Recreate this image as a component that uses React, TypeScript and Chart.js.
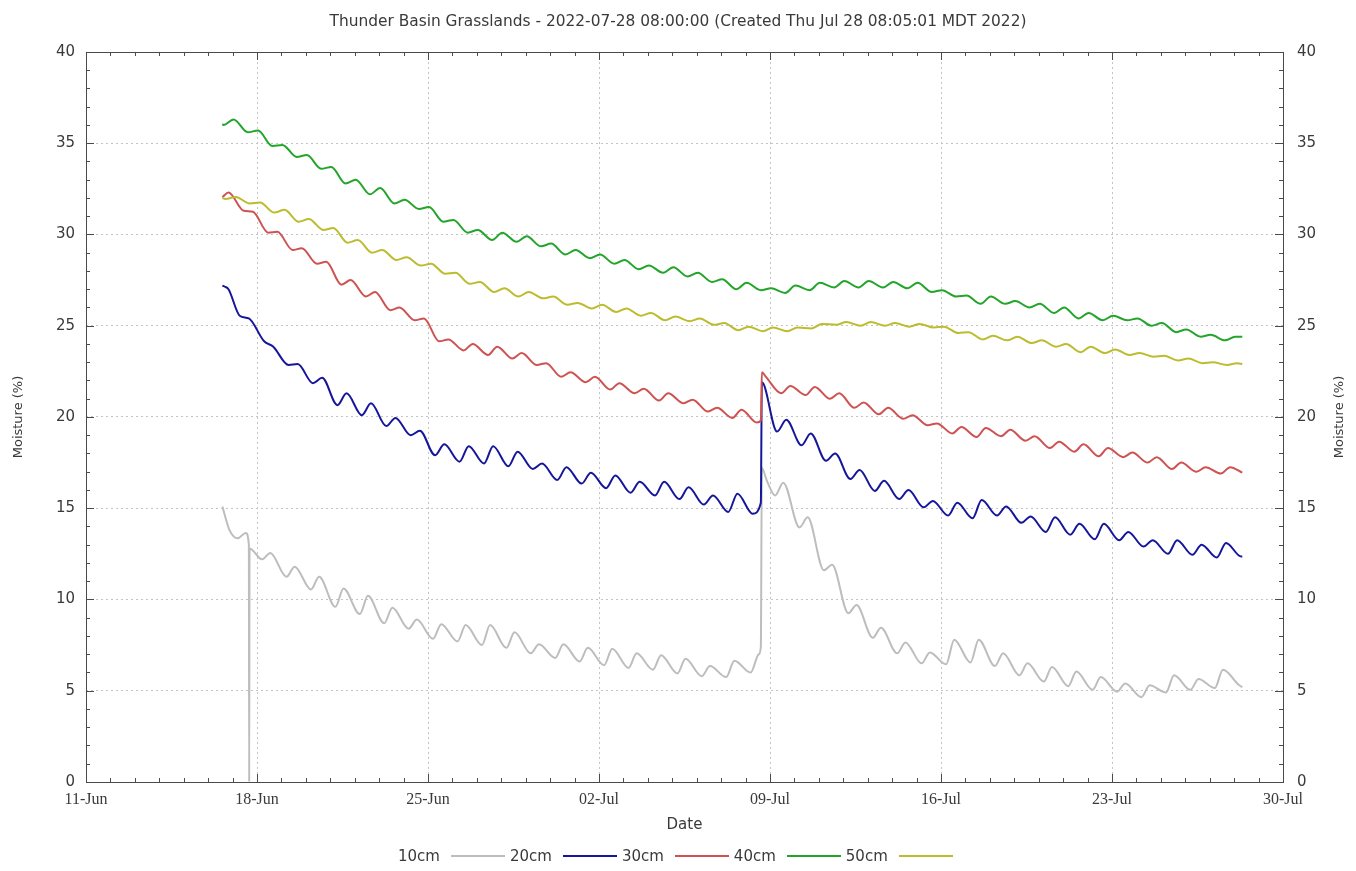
import React, { useEffect, useRef } from 'react';
import { Chart, registerables } from 'chart.js';

Chart.register(...registerables);

// ---------- text ----------
const TITLE = 'Thunder Basin Grasslands - 2022-07-28 08:00:00 (Created Thu Jul 28 08:05:01 MDT 2022)';
const X_TITLE = 'Date';
const Y_TITLE = 'Moisture (%)';
const X_TICK_LABELS = ['11-Jun', '18-Jun', '25-Jun', '02-Jul', '09-Jul', '16-Jul', '23-Jul', '30-Jul'];
const Y_MIN = 0;
const Y_MAX = 40;
const Y_STEP = 5;

// ---------- time frame (x = days after 11-Jun 00:00) ----------
const X_MIN = 0;
const X_MAX = 49;
const FIRST_DAY = 5; // index 0 of the daily arrays = 16-Jun
const START_TIME = '06-16 14:00';
const END_TIME = '07-28 08:00';

// ---------- series ----------
const SERIES_NAMES = ['10cm', '20cm', '30cm', '40cm', '50cm'];
const SERIES_COLORS = ['#bdbdbd', '#16169a', '#cf5252', '#22a52a', '#bcbc2e'];

// 10cm : daily minimum (~05:00) and maximum (~13:00), one value per day from 16-Jun
const d10Start = 15.1;
const d10End = 5.2;
const d10TroughHour = 5;
const d10PeakHour = 13;
const d10Troughs = [null, 13.35, 12.2, 11.25, 10.55, 9.6, 9.2, 8.7, 8.4, 7.85, 7.7, 7.5, 7.35, 7.05, 6.8, 6.6, 6.4, 6.25, 6.15, 5.95, 5.8, 5.75, 6.0, 15.7, 13.95, 11.6, 9.25, 7.9, 7.05, 6.5, 6.45, 6.55, 6.35, 5.85, 5.5, 5.25, 5.05, 4.95, 4.65, 4.9, 5.05, 5.15, 5.3];
const d10Peaks = [null, 13.65, 12.55, 11.8, 11.25, 10.6, 10.2, 9.55, 8.9, 8.65, 8.6, 8.6, 8.2, 7.55, 7.55, 7.35, 7.3, 7.05, 6.95, 6.75, 6.35, 6.65, 7.0, 16.4, 14.5, 11.9, 9.7, 8.45, 7.65, 7.1, 7.8, 7.8, 7.05, 6.5, 6.3, 6.05, 5.75, 5.4, 5.3, 5.85, 5.65, 6.15, null];
const d10Events: [string, number][] = [
  ['06-16 21:00', 13.8],
  ['06-17 16:00', 13.0],
  ['06-17 16:20', 0],
  ['06-17 16:40', 12.8],
  ['07-08 15:00', 7.4],
  ['07-08 16:00', 17.2],
  ['07-08 21:00', 16.5],
];

// 20cm : minimum (~07:00), maximum (~16:00)
const d20Start = 27.2;
const d20End = 12.35;
const d20TroughHour = 7;
const d20PeakHour = 16;
const d20Troughs = [null, 25.55, 24.15, 22.85, 21.85, 20.65, 20.1, 19.5, 19.0, 17.9, 17.55, 17.45, 17.3, 17.15, 16.55, 16.35, 16.1, 15.85, 15.7, 15.5, 15.2, 14.8, 14.7, 19.2, 18.45, 17.6, 16.6, 15.95, 15.5, 15.05, 14.6, 14.45, 14.6, 14.2, 13.7, 13.55, 13.3, 13.25, 12.9, 12.5, 12.45, 12.3, 12.35];
const d20Peaks = [27.15, 25.4, 23.85, 22.9, 22.15, 21.3, 20.75, 19.95, 19.25, 18.5, 18.4, 18.4, 18.1, 17.45, 17.25, 16.95, 16.8, 16.45, 16.45, 16.15, 15.7, 15.8, 21.9, 19.85, 19.1, 18.0, 17.1, 16.5, 16.0, 15.4, 15.3, 15.45, 15.1, 14.55, 14.5, 14.15, 14.15, 13.7, 13.25, 13.25, 13.0, 13.1, null];
const d20Events: [string, number][] = [
  ['06-16 20:00', 27.0],
  ['07-08 15:00', 15.3],
];

// 30cm : minimum (~11:00), maximum (~20:00)
const d30Start = 32.05;
const d30End = 16.95;
const d30TroughHour = 11;
const d30PeakHour = 20;
const d30Troughs = [null, 31.3, 30.1, 29.15, 28.4, 27.25, 26.6, 25.85, 25.3, 24.15, 23.65, 23.4, 23.2, 22.85, 22.2, 21.9, 21.5, 21.3, 20.9, 20.75, 20.3, 19.95, 19.7, 21.3, 21.2, 21.0, 20.5, 20.15, 19.9, 19.55, 19.1, 18.9, 18.95, 18.7, 18.3, 18.1, 17.85, 17.8, 17.5, 17.15, 17.0, 16.9, null];
const d30Peaks = [32.3, 31.25, 30.15, 29.25, 28.5, 27.5, 26.85, 26.0, 25.4, 24.25, 24.0, 23.85, 23.5, 22.95, 22.45, 22.2, 21.85, 21.55, 21.3, 20.95, 20.5, 20.4, 22.2, 21.7, 21.65, 21.3, 20.8, 20.5, 20.1, 19.65, 19.45, 19.4, 19.3, 18.95, 18.65, 18.5, 18.3, 18.05, 17.8, 17.5, 17.25, 17.25, null];
const d30Events: [string, number][] = [
  ['07-08 15:00', 19.8],
  ['07-08 16:00', 22.45],
];

// 40cm : minimum (~15:00), maximum (~01:00)
const d40Start = 36.05;
const d40End = 24.4;
const d40TroughHour = 15;
const d40PeakHour = 1;
const d40Troughs = [36.0, 35.6, 34.85, 34.25, 33.6, 32.8, 32.2, 31.7, 31.4, 30.7, 30.1, 29.7, 29.6, 29.35, 28.9, 28.7, 28.4, 28.1, 27.9, 27.7, 27.4, 27.0, 26.95, 26.8, 26.95, 27.1, 27.1, 27.1, 27.05, 26.85, 26.6, 26.2, 26.2, 26.0, 25.7, 25.4, 25.3, 25.3, 25.0, 24.65, 24.4, 24.2, null];
const d40Peaks = [null, 36.3, 35.7, 34.9, 34.35, 33.7, 33.0, 32.55, 31.9, 31.5, 30.8, 30.25, 30.1, 29.9, 29.5, 29.15, 28.9, 28.6, 28.3, 28.2, 27.9, 27.55, 27.35, 27.05, 27.2, 27.35, 27.45, 27.45, 27.4, 27.35, 26.95, 26.65, 26.6, 26.35, 26.2, 26.0, 25.7, 25.55, 25.4, 25.15, 24.8, 24.5, 24.4];
const d40Events: [string, number][] = [];

// 50cm : minimum (~17:00), maximum (~03:00)
const d50Start = 32.0;
const d50End = 22.9;
const d50TroughHour = 17;
const d50PeakHour = 3;
const d50Troughs = [31.95, 31.7, 31.2, 30.7, 30.25, 29.55, 29.0, 28.6, 28.3, 27.85, 27.3, 26.85, 26.6, 26.5, 26.15, 25.95, 25.75, 25.55, 25.3, 25.25, 25.05, 24.75, 24.7, 24.7, 24.85, 25.05, 25.0, 25.0, 24.95, 24.9, 24.6, 24.25, 24.2, 24.05, 23.85, 23.55, 23.5, 23.4, 23.3, 23.1, 22.95, 22.85, null];
const d50Peaks = [null, 32.05, 31.75, 31.35, 30.85, 30.35, 29.7, 29.15, 28.75, 28.4, 27.9, 27.4, 27.05, 26.85, 26.6, 26.25, 26.15, 25.95, 25.7, 25.5, 25.4, 25.15, 24.95, 24.9, 24.9, 25.1, 25.2, 25.2, 25.15, 25.1, 24.95, 24.65, 24.45, 24.4, 24.2, 24.0, 23.85, 23.7, 23.5, 23.35, 23.2, 23.0, 22.95];
const d50Events: [string, number][] = [];

// ---------- helpers ----------
function toDays(t: string): number {
  const [md, hm] = t.split(' ');
  const [mo, dd] = md.split('-').map(Number);
  const [hh, mm] = hm.split(':').map(Number);
  const dayIndex = mo === 6 ? dd - 11 : 19 + dd; // June has 30 days
  return dayIndex + (hh + mm / 60) / 24;
}

type Pt = { x: number; y: number };

function buildSeries(
  start: number,
  end: number,
  troughHour: number,
  troughs: (number | null)[],
  peakHour: number,
  peaks: (number | null)[],
  events: [string, number][],
): Pt[] {
  const t0 = toDays(START_TIME);
  const t1 = toDays(END_TIME);
  const pts: Pt[] = [{ x: t0, y: start }];
  troughs.forEach((v, k) => {
    if (v !== null) pts.push({ x: FIRST_DAY + k + troughHour / 24, y: v });
  });
  peaks.forEach((v, k) => {
    if (v !== null) pts.push({ x: FIRST_DAY + k + peakHour / 24, y: v });
  });
  events.forEach(([t, v]) => pts.push({ x: toDays(t), y: v }));
  pts.push({ x: t1, y: end });
  return pts.filter((p) => p.x >= t0 && p.x <= t1).sort((a, b) => a.x - b.x);
}

const SERIES_DATA: Pt[][] = [
  buildSeries(d10Start, d10End, d10TroughHour, d10Troughs, d10PeakHour, d10Peaks, d10Events),
  buildSeries(d20Start, d20End, d20TroughHour, d20Troughs, d20PeakHour, d20Peaks, d20Events),
  buildSeries(d30Start, d30End, d30TroughHour, d30Troughs, d30PeakHour, d30Peaks, d30Events),
  buildSeries(d40Start, d40End, d40TroughHour, d40Troughs, d40PeakHour, d40Peaks, d40Events),
  buildSeries(d50Start, d50End, d50TroughHour, d50Troughs, d50PeakHour, d50Peaks, d50Events),
];

const TEXT_COLOR = '#3a3a3a';
const GRID_COLOR = '#c4c4c4';
const FRAME_COLOR = '#4a4a4a';
const SANS = '"DejaVu Sans", sans-serif';
const SERIF = '"Liberation Serif", serif';

// frame, inward tick marks (gnuplot style) and the right-hand axis label
const frameTicks = {
  id: 'frameTicks',
  afterDatasetsDraw(chart: any) {
    const { ctx, chartArea: a, scales } = chart;
    ctx.save();
    ctx.strokeStyle = FRAME_COLOR;
    ctx.lineWidth = 1;
    ctx.beginPath();
    for (let d = X_MIN; d <= X_MAX; d++) {
      const x = Math.round(scales.x.getPixelForValue(d)) + 0.5;
      const len = d % 7 === 0 ? 8 : 4;
      ctx.moveTo(x, a.bottom);
      ctx.lineTo(x, a.bottom - len);
      ctx.moveTo(x, a.top);
      ctx.lineTo(x, a.top + len);
    }
    for (let v = Y_MIN; v <= Y_MAX; v++) {
      const y = Math.round(scales.y.getPixelForValue(v)) + 0.5;
      const len = v % Y_STEP === 0 ? 8 : 4;
      ctx.moveTo(a.left, y);
      ctx.lineTo(a.left + len, y);
      ctx.moveTo(a.right, y);
      ctx.lineTo(a.right - len, y);
    }
    ctx.stroke();
    ctx.strokeRect(Math.round(a.left) + 0.5, Math.round(a.top) + 0.5, Math.round(a.right - a.left), Math.round(a.bottom - a.top));

    // right axis title, read bottom-to-top like the left one
    const r = scales.y2;
    ctx.translate(r.right - 16, (a.top + a.bottom) / 2);
    ctx.rotate(-Math.PI / 2);
    ctx.fillStyle = TEXT_COLOR;
    ctx.font = `13px ${SANS}`;
    ctx.textAlign = 'center';
    ctx.textBaseline = 'middle';
    ctx.fillText(Y_TITLE, 0, 0);
    ctx.restore();
  },
};

export default function App() {
  const canvasRef = useRef<HTMLCanvasElement | null>(null);

  useEffect(() => {
    if (!canvasRef.current) return;
    const chart = new Chart(canvasRef.current, {
      type: 'line',
      data: {
        datasets: SERIES_NAMES.map((name, i) => ({
          label: name,
          data: SERIES_DATA[i],
          borderColor: SERIES_COLORS[i],
          backgroundColor: SERIES_COLORS[i],
          borderWidth: 2,
          pointRadius: 0,
          fill: false,
          cubicInterpolationMode: 'monotone' as const,
          yAxisID: 'y',
          order: SERIES_NAMES.length - i,
        })),
      },
      options: {
        animation: false,
        responsive: false,
        maintainAspectRatio: false,
        layout: { padding: 0 },
        plugins: {
          legend: { display: false },
          tooltip: { enabled: false },
          title: {
            display: true,
            text: TITLE,
            color: TEXT_COLOR,
            font: { family: SANS, size: 15.4, weight: 'normal' },
            padding: { top: 13, bottom: 20.5 },
          },
        },
        scales: {
          x: {
            type: 'linear',
            position: 'bottom',
            min: X_MIN,
            max: X_MAX,
            afterFit: (s: any) => {
              s.height = 89;
            },
            ticks: {
              stepSize: 1,
              autoSkip: false,
              maxRotation: 0,
              minRotation: 0,
              padding: 8,
              color: TEXT_COLOR,
              font: { family: SERIF, size: 16 },
              callback: (v: any) => (Number(v) % 7 === 0 ? X_TICK_LABELS[Number(v) / 7] : ''),
            },
            grid: {
              drawTicks: false,
              color: (c: any) => {
                const v = c.tick ? c.tick.value : -1;
                return v % 7 === 0 && v > X_MIN && v < X_MAX ? GRID_COLOR : 'rgba(0,0,0,0)';
              },
              lineWidth: 1,
            },
            border: { display: false, dash: [2, 3] },
            title: {
              display: true,
              text: X_TITLE,
              color: TEXT_COLOR,
              font: { family: SANS, size: 15 },
              padding: { top: 0, bottom: 37 },
            },
          },
          y: {
            type: 'linear',
            position: 'left',
            min: Y_MIN,
            max: Y_MAX,
            afterFit: (s: any) => {
              s.width = 86;
            },
            ticks: {
              stepSize: Y_STEP,
              padding: 11,
              color: TEXT_COLOR,
              font: { family: SANS, size: 15 },
            },
            grid: {
              drawTicks: false,
              color: (c: any) => {
                const v = c.tick ? c.tick.value : -1;
                return v > Y_MIN && v < Y_MAX ? GRID_COLOR : 'rgba(0,0,0,0)';
              },
              lineWidth: 1,
            },
            border: { display: false, dash: [2, 3] },
            title: {
              display: true,
              text: Y_TITLE,
              color: TEXT_COLOR,
              font: { family: SANS, size: 13 },
              padding: { top: 11, bottom: 0 },
            },
          },
          y2: {
            type: 'linear',
            position: 'right',
            min: Y_MIN,
            max: Y_MAX,
            afterFit: (s: any) => {
              s.width = 73;
            },
            ticks: {
              stepSize: Y_STEP,
              padding: 14,
              color: TEXT_COLOR,
              font: { family: SANS, size: 15 },
            },
            grid: { display: false, drawTicks: false },
            border: { display: false },
            title: { display: false },
          },
        },
      } as any,
      plugins: [frameTicks],
    });
    return () => chart.destroy();
  }, []);

  return (
    <div style={{ position: 'absolute', left: 0, top: 0, width: 1356, height: 871, background: '#fff' }}>
      <canvas ref={canvasRef} width={1356} height={871} style={{ display: 'block', width: 1356, height: 871 }} />
      <div
        style={{
          position: 'absolute',
          left: 398,
          top: 847,
          display: 'flex',
          alignItems: 'center',
          fontFamily: SANS,
          fontSize: 15,
          color: TEXT_COLOR,
          lineHeight: '18px',
        }}
      >
        {SERIES_NAMES.map((name, i) => (
          <div key={name} style={{ display: 'flex', alignItems: 'center', marginRight: 5 }}>
            <span>{name}</span>
            <span style={{ display: 'inline-block', width: 54, height: 2, marginLeft: 11, background: SERIES_COLORS[i] }} />
          </div>
        ))}
      </div>
    </div>
  );
}
